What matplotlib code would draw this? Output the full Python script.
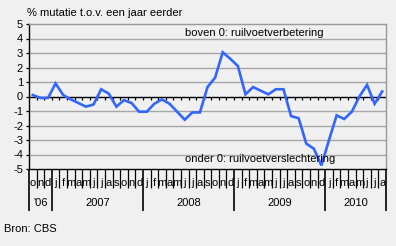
import matplotlib
matplotlib.use("Agg")
import matplotlib.pyplot as plt
import matplotlib.transforms as mtransforms
import numpy as np

plt.rcParams['font.family'] = ['Liberation Sans', 'DejaVu Sans']

# Data: monthly % change, Oct 2006 - Aug 2010
month_labels = ['o', 'n', 'd',
                'j', 'f', 'm', 'a', 'm', 'j', 'j', 'a', 's', 'o', 'n', 'd',
                'j', 'f', 'm', 'a', 'm', 'j', 'j', 'a', 's', 'o', 'n', 'd',
                'j', 'f', 'm', 'a', 'm', 'j', 'j', 'a', 's', 'o', 'n', 'd',
                'j', 'f', 'm', 'a', 'm', 'j', 'j', 'a']
values = [0.1, -0.1, -0.1,
          0.9, 0.1, -0.2, -0.45, -0.7, -0.55, 0.5, 0.2, -0.7, -0.25, -0.45, -1.05,
          -1.05, -0.5, -0.2, -0.5, -1.05, -1.6, -1.1, -1.1, 0.65, 1.3, 3.05, 2.6,
          2.1, 0.15, 0.65, 0.4, 0.15, 0.5, 0.5, -1.35, -1.5, -3.25, -3.6, -4.75,
          -3.0, -1.3, -1.55, -1.05, 0.0, 0.8, -0.5, 0.35]
year_labels = ["'06", '2007', '2008', '2009', '2010']
year_counts = [3, 12, 12, 12, 8]

bg = '#f0f0f0'
fig = plt.figure(figsize=(3.96, 2.46), dpi=100, facecolor=bg)
W, H = 396, 246
left, right, top, bottom = 29, 386, 24, 169
ax = fig.add_axes([left / W, 1 - bottom / H, (right - left) / W, (bottom - top) / H])
ax.set_facecolor(bg)

n = len(values)
x = np.arange(n) + 0.5
ax.set_xlim(0, n)
ax.set_ylim(-5, 5)

# grid
ax.set_yticks(range(-5, 6))
for v in range(-4, 5):
    if v != 0:
        ax.axhline(v, color='#a6a6a6', lw=1.0, zorder=1)
ax.axhline(0, color='black', lw=1.0, zorder=2)
# small ticks on zero line
ax.vlines(np.arange(1, n), -0.22, 0, color='black', lw=0.9, zorder=2)

ax.plot(x, values, color='#3366ff', lw=1.9, zorder=3, solid_joinstyle='miter')

for s in ['top', 'right']:
    ax.spines[s].set_color('#999999')
    ax.spines[s].set_linewidth(1.0)
for s in ['left', 'bottom']:
    ax.spines[s].set_color('black')
    ax.spines[s].set_linewidth(1.0)

fs = 8
ax.tick_params(axis='y', length=2.3, width=0.9, color='black', pad=2, labelsize=fs)
ax.set_yticklabels([str(v) for v in range(-5, 6)])

# x ticks: month separators (minor) and year separators (major)
bounds = np.concatenate([[0], np.cumsum(year_counts)])
ax.set_xticks(bounds)
ax.set_xticks(np.arange(0, n + 1), minor=True)
ax.tick_params(axis='x', which='major', length=30, width=1.2, color='black', labelbottom=False)
ax.tick_params(axis='x', which='minor', length=13.5, width=0.9, color='black', labelbottom=False)

trans = mtransforms.blended_transform_factory(ax.transData, ax.transAxes)
for xi, lab in zip(x, month_labels):
    ax.text(xi, -0.097, lab, transform=trans, ha='center', va='center', fontsize=fs)
for i, lab in enumerate(year_labels):
    ax.text((bounds[i] + bounds[i + 1]) / 2, -0.235, lab, transform=trans,
            ha='center', va='center', fontsize=fs)

fig.text(27 / W, 1 - 13 / H, '% mutatie t.o.v. een jaar eerder', ha='left', va='center', fontsize=fs)
fig.text(185 / W, 1 - 33 / H, 'boven 0: ruilvoetverbetering', ha='left', va='center', fontsize=fs)
fig.text(185 / W, 1 - 159 / H, 'onder 0: ruilvoetverslechtering', ha='left', va='center', fontsize=fs)
fig.text(4 / W, 1 - 229 / H, 'Bron: CBS', ha='left', va='center', fontsize=fs)

fig.savefig('out.png', dpi=100, facecolor=bg)
